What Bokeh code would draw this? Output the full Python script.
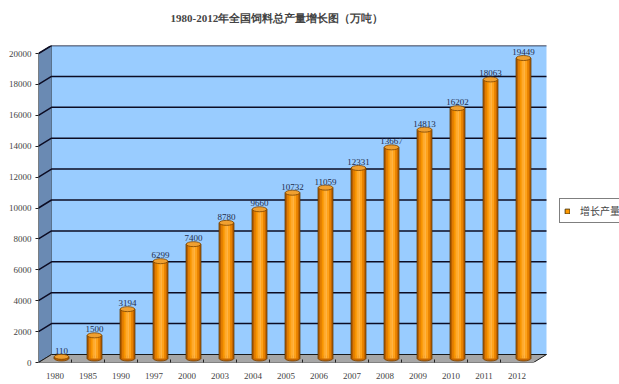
from bokeh.plotting import figure
from bokeh.models import ColumnDataSource, Range1d, FixedTicker, LabelSet, Legend, LegendItem, Title
from bokeh.embed import file_html
from bokeh.resources import INLINE

# ---- data ----
years = ["1980", "1985", "1990", "1997", "2000", "2003", "2004", "2005",
         "2006", "2007", "2008", "2009", "2010", "2011", "2012"]
output = [110, 1500, 3194, 6299, 7400, 8780, 9660, 10732,
          11059, 12331, 13667, 14813, 16202, 18063, 19449]
y_ticks = list(range(0, 20001, 2000))
TITLE = "1980-2012年全国饲料总产量增长图（万吨）"
LEGEND_LABEL = "增长产量"

# ---- 3D geometry (in data units) ----
PX_X = 33.0                 # px per category
PX_Y = 20000 / 309.0        # value units per px
DX = 13 / PX_X              # depth offset x
DY = 8 * PX_Y               # depth offset y
n = len(years)
W = 0.44                    # cylinder width (category units)
ELL = 5 * PX_Y              # ellipse height
ORANGE = "#FF9900"
SHADES = ["#B85F00", "#E07C00", "#F79400", "#FFAA2B",
          "#FFB443", "#FFA21A", "#EB8500", "#C46600"]

xc = [i + 0.5 + DX / 2 for i in range(n)]
tops = [v + DY / 2 for v in output]
base = DY / 2
src = ColumnDataSource(dict(xc=xc, top=tops, label=[str(v) for v in output]))

p = figure(width=619, height=383, output_backend="svg", toolbar_location=None,
           x_range=Range1d(0, 581 / PX_X), y_range=Range1d(0, 317 * PX_Y),
           min_border_left=38, min_border_right=0, min_border_top=45,
           min_border_bottom=21, title=TITLE)
p.outline_line_color = None
p.background_fill_color = "white"
p.border_fill_color = "white"
p.grid.visible = False

# title (outermost) + invisible spacer between title and plot
p.title.text_font = "Liberation Serif"
p.title.text_font_size = "11px"
p.title.text_font_style = "bold"
p.title.align = "left"
p.title.offset = 132
p.add_layout(Title(text=" ", text_font_size="4px"), "above")

# walls and floor
p.patch([0, DX, DX, 0], [0, DY, 20000 + DY, 20000],
        fill_color="#6A8AB3", line_color="#1a1a1a", line_width=1)
p.patch([DX, n + DX, n + DX, DX], [DY, DY, 20000 + DY, 20000 + DY],
        fill_color="#99CCFF", line_color=None)
p.patch([0, n, n + DX, DX], [0, 0, DY, DY],
        fill_color="#A6A6A6", line_color="#1a1a1a", line_width=1)

# gridlines on walls
gx = [[0, DX, n + DX] for v in y_ticks[1:]]
gy = [[v, v + DY, v + DY] for v in y_ticks[1:]]
p.multi_line(gx, gy, line_color="#0c0c24", line_width=1.5)

# cylinders
body = p.vbar(x="xc", width=W, bottom=base, top="top", source=src,
              fill_color=ORANGE, line_color="#3a2a00", line_width=0.8)
p.ellipse(x="xc", y=base, width=W, height=ELL, source=src,
          fill_color="#C46600", line_color="#7A4200", line_width=0.8)
for k, col in enumerate(SHADES):
    p.vbar(x=[c - W / 2 + (k + 0.5) * W / 8 for c in xc], width=W / 8 * 1.1,
           bottom=base, top=tops, fill_color=col, line_color=None)
p.segment(x0=[c - W / 2 for c in xc], y0=base, x1=[c - W / 2 for c in xc], y1=tops,
          line_color="#7A4200", line_width=0.8)
p.segment(x0=[c + W / 2 for c in xc], y0=base, x1=[c + W / 2 for c in xc], y1=tops,
          line_color="#7A4200", line_width=0.8)
p.ellipse(x="xc", y="top", width=W, height=ELL, source=src,
          fill_color="#F0A030", line_color="#7A4200", line_width=0.8)

labels = LabelSet(x="xc", y="top", text="label", source=src, text_align="center",
                  text_baseline="bottom", y_offset=3, text_font_size="9px",
                  text_font="Liberation Serif", text_color="#1F2D4D")
p.add_layout(labels)

# axes
p.xaxis.ticker = FixedTicker(ticks=[i + 0.5 for i in range(n)], minor_ticks=list(range(1, n)))
p.xaxis.major_label_overrides = {i + 0.5: y for i, y in enumerate(years)}
p.xaxis.axis_line_color = None
p.xaxis.major_tick_line_color = None
p.xaxis.major_tick_out = 0
p.xaxis.minor_tick_in = 3
p.xaxis.minor_tick_out = 0
p.xaxis.minor_tick_line_color = "#222222"
p.xaxis.major_label_text_font = "Liberation Serif"
p.xaxis.major_label_text_font_size = "9px"
p.xaxis.major_label_standoff = 10

p.yaxis.ticker = FixedTicker(ticks=y_ticks, minor_ticks=[])
p.yaxis.axis_line_color = None
p.yaxis.major_tick_out = 3
p.yaxis.major_tick_in = 0
p.yaxis.major_tick_line_color = "#222222"
p.yaxis.major_label_standoff = 4
p.yaxis.major_label_text_font = "Liberation Serif"
p.yaxis.major_label_text_font_size = "9px"

# legend
legend = Legend(items=[LegendItem(label=LEGEND_LABEL, renderers=[body])],
                location=(521, 139), padding=4, glyph_width=6, glyph_height=6,
                label_standoff=10, border_line_color="black", border_line_width=1,
                label_text_font_size="10px", label_text_font="Noto Sans CJK SC",
                background_fill_color="white", margin=0)
p.add_layout(legend)

open("out.html", "w").write(file_html(p, INLINE))
